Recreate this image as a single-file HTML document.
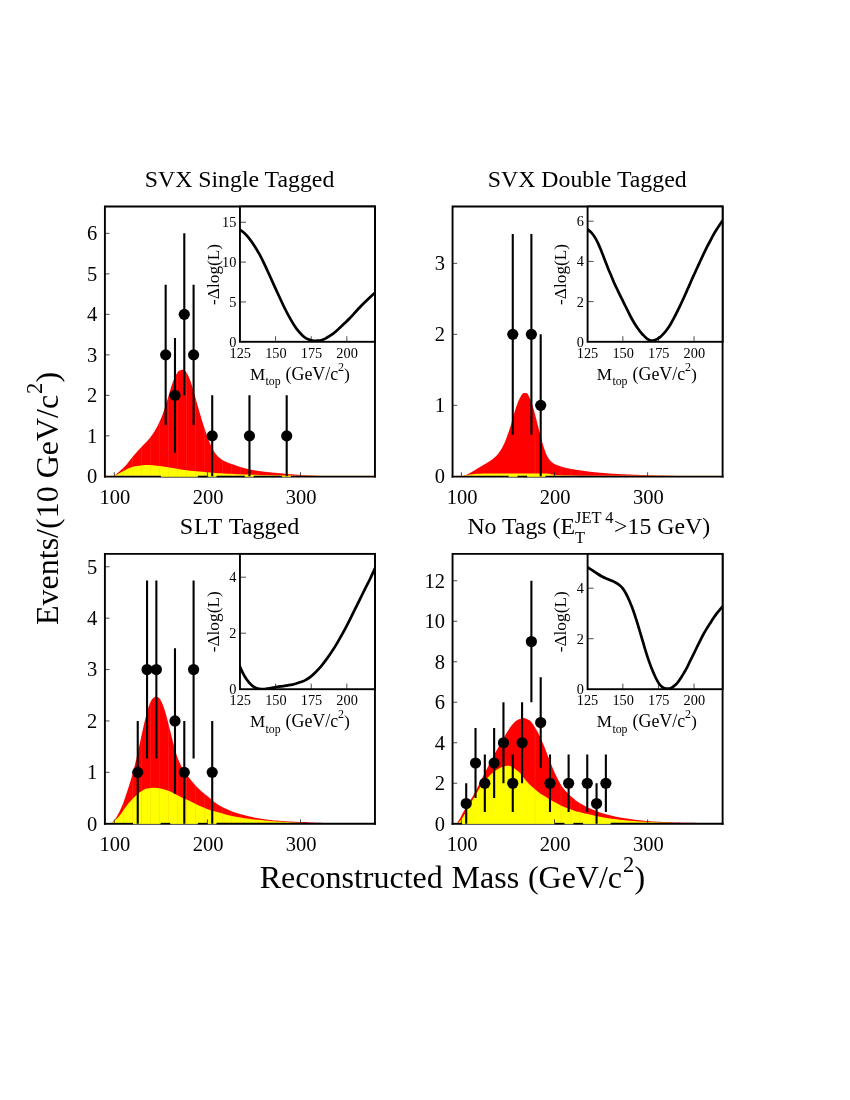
<!DOCTYPE html>
<html><head><meta charset="utf-8"><title>Reconstructed Mass</title>
<style>html,body{margin:0;padding:0;background:#fff}svg{display:block;will-change:transform}text{fill:#000}</style></head>
<body><svg width="850" height="1100" viewBox="0 0 850 1100">
<rect width="850" height="1100" fill="#fff"/>
<g id="panel1">
<path d="M104.90,477.60V206.50H374.95V477.60" fill="none" stroke="#000" stroke-width="1.9" stroke-linejoin="miter"/>
<clipPath id="cr0"><path d="M114.80,475.60C116.45,474.10 121.68,469.78 124.70,466.60C127.72,463.42 130.15,459.72 132.90,456.50C135.65,453.28 138.45,450.30 141.20,447.30C143.95,444.30 146.93,441.58 149.40,438.50C151.87,435.42 153.80,432.82 156.00,428.80C158.20,424.78 160.68,419.28 162.60,414.40C164.52,409.52 165.85,404.72 167.50,399.50C169.15,394.28 170.85,387.62 172.50,383.10C174.15,378.58 175.90,374.60 177.40,372.40C178.90,370.20 180.12,370.05 181.50,369.90C182.88,369.75 184.18,369.58 185.70,371.50C187.22,373.42 188.97,377.00 190.60,381.40C192.23,385.80 193.85,392.23 195.50,397.90C197.15,403.57 199.02,410.37 200.50,415.40C201.98,420.43 202.98,423.83 204.40,428.10C205.82,432.37 207.43,437.17 209.00,441.00C210.57,444.83 212.30,448.50 213.80,451.10C215.30,453.70 216.43,455.03 218.00,456.60C219.57,458.17 220.77,459.22 223.20,460.50C225.63,461.78 229.45,463.15 232.60,464.30C235.75,465.45 238.95,466.50 242.10,467.40C245.25,468.30 248.37,469.07 251.50,469.70C254.63,470.33 256.98,470.68 260.90,471.20C264.82,471.72 270.15,472.30 275.00,472.80C279.85,473.30 284.83,473.78 290.00,474.20C295.17,474.62 300.67,474.98 306.00,475.30C311.33,475.62 319.33,475.97 322.00,476.10L322.00,476.90L114.80,476.90Z"/></clipPath>
<clipPath id="cy0"><path d="M114.80,475.60C116.45,474.73 121.68,471.88 124.70,470.40C127.72,468.92 130.15,467.53 132.90,466.70C135.65,465.87 138.45,465.67 141.20,465.40C143.95,465.13 145.28,464.83 149.40,465.10C153.52,465.37 160.40,466.23 165.90,467.00C171.40,467.77 176.92,468.93 182.40,469.70C187.88,470.47 193.32,471.07 198.80,471.60C204.28,472.13 208.43,472.47 215.30,472.90C222.17,473.33 232.55,473.85 240.00,474.20C247.45,474.55 253.33,474.78 260.00,475.00C266.67,475.22 274.67,475.38 280.00,475.50C285.33,475.62 288.67,475.52 292.00,475.70C295.33,475.88 298.67,476.45 300.00,476.60L300.00,476.90L114.80,476.90Z"/></clipPath>
<path d="M114.80,475.60C116.45,474.10 121.68,469.78 124.70,466.60C127.72,463.42 130.15,459.72 132.90,456.50C135.65,453.28 138.45,450.30 141.20,447.30C143.95,444.30 146.93,441.58 149.40,438.50C151.87,435.42 153.80,432.82 156.00,428.80C158.20,424.78 160.68,419.28 162.60,414.40C164.52,409.52 165.85,404.72 167.50,399.50C169.15,394.28 170.85,387.62 172.50,383.10C174.15,378.58 175.90,374.60 177.40,372.40C178.90,370.20 180.12,370.05 181.50,369.90C182.88,369.75 184.18,369.58 185.70,371.50C187.22,373.42 188.97,377.00 190.60,381.40C192.23,385.80 193.85,392.23 195.50,397.90C197.15,403.57 199.02,410.37 200.50,415.40C201.98,420.43 202.98,423.83 204.40,428.10C205.82,432.37 207.43,437.17 209.00,441.00C210.57,444.83 212.30,448.50 213.80,451.10C215.30,453.70 216.43,455.03 218.00,456.60C219.57,458.17 220.77,459.22 223.20,460.50C225.63,461.78 229.45,463.15 232.60,464.30C235.75,465.45 238.95,466.50 242.10,467.40C245.25,468.30 248.37,469.07 251.50,469.70C254.63,470.33 256.98,470.68 260.90,471.20C264.82,471.72 270.15,472.30 275.00,472.80C279.85,473.30 284.83,473.78 290.00,474.20C295.17,474.62 300.67,474.98 306.00,475.30C311.33,475.62 319.33,475.97 322.00,476.10L322.00,476.90L114.80,476.90Z" fill="#ff0000"/>
<g clip-path="url(#cr0)" stroke="#fff" stroke-opacity="0.08" stroke-width="1"><line x1="114.5" y1="206.5" x2="114.5" y2="476.6"/><line x1="123.5" y1="206.5" x2="123.5" y2="476.6"/><line x1="132.5" y1="206.5" x2="132.5" y2="476.6"/><line x1="141.5" y1="206.5" x2="141.5" y2="476.6"/><line x1="150.5" y1="206.5" x2="150.5" y2="476.6"/><line x1="159.5" y1="206.5" x2="159.5" y2="476.6"/><line x1="168.5" y1="206.5" x2="168.5" y2="476.6"/><line x1="177.5" y1="206.5" x2="177.5" y2="476.6"/><line x1="186.5" y1="206.5" x2="186.5" y2="476.6"/><line x1="195.5" y1="206.5" x2="195.5" y2="476.6"/><line x1="204.5" y1="206.5" x2="204.5" y2="476.6"/><line x1="213.5" y1="206.5" x2="213.5" y2="476.6"/><line x1="222.5" y1="206.5" x2="222.5" y2="476.6"/><line x1="231.5" y1="206.5" x2="231.5" y2="476.6"/><line x1="240.5" y1="206.5" x2="240.5" y2="476.6"/><line x1="249.5" y1="206.5" x2="249.5" y2="476.6"/><line x1="258.5" y1="206.5" x2="258.5" y2="476.6"/><line x1="267.5" y1="206.5" x2="267.5" y2="476.6"/><line x1="276.5" y1="206.5" x2="276.5" y2="476.6"/><line x1="285.5" y1="206.5" x2="285.5" y2="476.6"/><line x1="294.5" y1="206.5" x2="294.5" y2="476.6"/><line x1="303.5" y1="206.5" x2="303.5" y2="476.6"/><line x1="312.5" y1="206.5" x2="312.5" y2="476.6"/><line x1="321.5" y1="206.5" x2="321.5" y2="476.6"/><line x1="330.5" y1="206.5" x2="330.5" y2="476.6"/><line x1="339.5" y1="206.5" x2="339.5" y2="476.6"/><line x1="348.5" y1="206.5" x2="348.5" y2="476.6"/><line x1="357.5" y1="206.5" x2="357.5" y2="476.6"/><line x1="366.5" y1="206.5" x2="366.5" y2="476.6"/></g>
<path d="M114.80,475.60C116.45,474.73 121.68,471.88 124.70,470.40C127.72,468.92 130.15,467.53 132.90,466.70C135.65,465.87 138.45,465.67 141.20,465.40C143.95,465.13 145.28,464.83 149.40,465.10C153.52,465.37 160.40,466.23 165.90,467.00C171.40,467.77 176.92,468.93 182.40,469.70C187.88,470.47 193.32,471.07 198.80,471.60C204.28,472.13 208.43,472.47 215.30,472.90C222.17,473.33 232.55,473.85 240.00,474.20C247.45,474.55 253.33,474.78 260.00,475.00C266.67,475.22 274.67,475.38 280.00,475.50C285.33,475.62 288.67,475.52 292.00,475.70C295.33,475.88 298.67,476.45 300.00,476.60L300.00,476.90L114.80,476.90Z" fill="#ffff00"/>
<g clip-path="url(#cy0)" stroke="#ff0000" stroke-opacity="0.08" stroke-width="1"><line x1="114.5" y1="206.5" x2="114.5" y2="476.6"/><line x1="123.5" y1="206.5" x2="123.5" y2="476.6"/><line x1="132.5" y1="206.5" x2="132.5" y2="476.6"/><line x1="141.5" y1="206.5" x2="141.5" y2="476.6"/><line x1="150.5" y1="206.5" x2="150.5" y2="476.6"/><line x1="159.5" y1="206.5" x2="159.5" y2="476.6"/><line x1="168.5" y1="206.5" x2="168.5" y2="476.6"/><line x1="177.5" y1="206.5" x2="177.5" y2="476.6"/><line x1="186.5" y1="206.5" x2="186.5" y2="476.6"/><line x1="195.5" y1="206.5" x2="195.5" y2="476.6"/><line x1="204.5" y1="206.5" x2="204.5" y2="476.6"/><line x1="213.5" y1="206.5" x2="213.5" y2="476.6"/><line x1="222.5" y1="206.5" x2="222.5" y2="476.6"/><line x1="231.5" y1="206.5" x2="231.5" y2="476.6"/><line x1="240.5" y1="206.5" x2="240.5" y2="476.6"/><line x1="249.5" y1="206.5" x2="249.5" y2="476.6"/><line x1="258.5" y1="206.5" x2="258.5" y2="476.6"/><line x1="267.5" y1="206.5" x2="267.5" y2="476.6"/><line x1="276.5" y1="206.5" x2="276.5" y2="476.6"/><line x1="285.5" y1="206.5" x2="285.5" y2="476.6"/><line x1="294.5" y1="206.5" x2="294.5" y2="476.6"/><line x1="303.5" y1="206.5" x2="303.5" y2="476.6"/><line x1="312.5" y1="206.5" x2="312.5" y2="476.6"/><line x1="321.5" y1="206.5" x2="321.5" y2="476.6"/><line x1="330.5" y1="206.5" x2="330.5" y2="476.6"/><line x1="339.5" y1="206.5" x2="339.5" y2="476.6"/><line x1="348.5" y1="206.5" x2="348.5" y2="476.6"/><line x1="357.5" y1="206.5" x2="357.5" y2="476.6"/><line x1="366.5" y1="206.5" x2="366.5" y2="476.6"/></g>
<g stroke="#000" stroke-width="1.9"><line x1="103.95" y1="476.65" x2="160.91" y2="476.65"/><line x1="197.85" y1="476.65" x2="207.46" y2="476.65"/><line x1="216.47" y1="476.65" x2="244.70" y2="476.65"/><line x1="253.71" y1="476.65" x2="281.94" y2="476.65"/><line x1="290.95" y1="476.65" x2="375.90" y2="476.65"/></g>
<g stroke="#000" stroke-width="0.7"><line x1="160.61" y1="477.25" x2="198.15" y2="477.25"/><line x1="207.16" y1="477.25" x2="216.77" y2="477.25"/><line x1="244.40" y1="477.25" x2="254.01" y2="477.25"/><line x1="281.64" y1="477.25" x2="291.25" y2="477.25"/></g>
<g stroke="#e8a868" stroke-opacity="0.75" stroke-width="0.5"><line x1="105.85" y1="475.50" x2="160.91" y2="475.50"/><line x1="197.85" y1="475.50" x2="207.46" y2="475.50"/><line x1="216.47" y1="475.50" x2="244.70" y2="475.50"/><line x1="253.71" y1="475.50" x2="281.94" y2="475.50"/><line x1="290.95" y1="475.50" x2="374.00" y2="475.50"/></g>
<g stroke="#111" stroke-width="0.75"><line x1="104.90" y1="435.85" x2="109.50" y2="435.85"/><line x1="104.90" y1="395.35" x2="109.50" y2="395.35"/><line x1="104.90" y1="354.85" x2="109.50" y2="354.85"/><line x1="104.90" y1="314.35" x2="109.50" y2="314.35"/><line x1="104.90" y1="273.85" x2="109.50" y2="273.85"/><line x1="104.90" y1="233.35" x2="109.50" y2="233.35"/><line x1="114.31" y1="476.65" x2="114.31" y2="472.25"/><line x1="207.41" y1="476.65" x2="207.41" y2="472.25"/><line x1="300.51" y1="476.65" x2="300.51" y2="472.25"/></g>
<g font-family="Liberation Serif, serif" font-size="20.5"><text x="97.30" y="483.25" text-anchor="end">0</text><text x="97.30" y="442.75" text-anchor="end">1</text><text x="97.30" y="402.25" text-anchor="end">2</text><text x="97.30" y="361.75" text-anchor="end">3</text><text x="97.30" y="321.25" text-anchor="end">4</text><text x="97.30" y="280.75" text-anchor="end">5</text><text x="97.30" y="240.25" text-anchor="end">6</text><text x="114.91" y="503.95" text-anchor="middle">100</text><text x="208.01" y="503.95" text-anchor="middle">200</text><text x="301.11" y="503.95" text-anchor="middle">300</text></g>
<clipPath id="cp0"><rect x="104.90" y="206.50" width="270.05" height="271.15"/></clipPath>
<g stroke="#000" stroke-width="2.1" clip-path="url(#cp0)"><line x1="165.67" y1="284.70" x2="165.67" y2="425.00"/><line x1="174.98" y1="338.07" x2="174.98" y2="452.63"/><line x1="184.29" y1="233.35" x2="184.29" y2="395.35"/><line x1="193.60" y1="284.70" x2="193.60" y2="425.00"/><line x1="212.22" y1="395.35" x2="212.22" y2="476.35"/><line x1="249.46" y1="395.35" x2="249.46" y2="476.35"/><line x1="286.70" y1="395.35" x2="286.70" y2="476.35"/></g>
<g fill="#000"><circle cx="165.67" cy="354.85" r="5.6"/><circle cx="174.98" cy="395.35" r="5.6"/><circle cx="184.29" cy="314.35" r="5.6"/><circle cx="193.60" cy="354.85" r="5.6"/><circle cx="212.22" cy="435.85" r="5.6"/><circle cx="249.46" cy="435.85" r="5.6"/><circle cx="286.70" cy="435.85" r="5.6"/></g>
<rect x="239.95" y="206.50" width="135.00" height="135.30" fill="#fff" stroke="#000" stroke-width="1.9"/>
<g stroke="#111" stroke-width="0.75"><line x1="239.95" y1="301.95" x2="245.95" y2="301.95"/><line x1="239.95" y1="262.10" x2="245.95" y2="262.10"/><line x1="239.95" y1="222.25" x2="245.95" y2="222.25"/><line x1="275.60" y1="341.80" x2="275.60" y2="336.20"/><line x1="311.20" y1="341.80" x2="311.20" y2="336.20"/><line x1="346.80" y1="341.80" x2="346.80" y2="336.20"/></g>
<clipPath id="ci0"><rect x="239.95" y="206.50" width="135.00" height="135.30"/></clipPath>
<path d="M234.70,226.10C235.52,226.67 237.95,228.30 239.60,229.50C241.25,230.70 242.95,231.73 244.60,233.30C246.25,234.87 247.85,236.80 249.50,238.90C251.15,241.00 252.85,243.35 254.50,245.90C256.15,248.45 257.75,251.17 259.40,254.20C261.05,257.23 262.75,260.67 264.40,264.10C266.05,267.53 267.67,271.22 269.30,274.80C270.93,278.38 272.55,281.98 274.20,285.60C275.85,289.22 277.55,292.93 279.20,296.50C280.85,300.07 282.45,303.65 284.10,307.00C285.75,310.35 287.45,313.62 289.10,316.60C290.75,319.58 292.37,322.38 294.00,324.90C295.63,327.42 297.25,329.72 298.90,331.70C300.55,333.68 302.25,335.48 303.90,336.80C305.55,338.12 307.15,338.93 308.80,339.60C310.45,340.27 312.42,340.62 313.80,340.80C315.18,340.98 316.00,340.75 317.10,340.70C318.20,340.65 319.03,340.85 320.40,340.50C321.77,340.15 323.67,339.40 325.30,338.60C326.93,337.80 328.55,336.80 330.20,335.70C331.85,334.60 333.55,333.37 335.20,332.00C336.85,330.63 338.45,329.03 340.10,327.50C341.75,325.97 343.45,324.38 345.10,322.80C346.75,321.22 348.37,319.68 350.00,318.00C351.63,316.32 353.25,314.50 354.90,312.70C356.55,310.90 358.25,308.95 359.90,307.20C361.55,305.45 363.15,303.83 364.80,302.20C366.45,300.57 368.20,298.90 369.80,297.40C371.40,295.90 372.75,294.67 374.40,293.20C376.05,291.73 378.82,289.37 379.70,288.60" fill="none" stroke="#000" stroke-width="2.7" stroke-linecap="butt" clip-path="url(#ci0)"/>
<g font-family="Liberation Serif, serif" font-size="14.3"><text x="236.35" y="347.00" text-anchor="end">0</text><text x="236.35" y="306.95" text-anchor="end">5</text><text x="236.35" y="267.10" text-anchor="end">10</text><text x="236.35" y="227.25" text-anchor="end">15</text><text x="240.30" y="358.00" text-anchor="middle">125</text><text x="275.90" y="358.00" text-anchor="middle">150</text><text x="311.50" y="358.00" text-anchor="middle">175</text><text x="347.10" y="358.00" text-anchor="middle">200</text></g>
<text font-family="Liberation Serif, serif" font-size="17.3" transform="translate(219.05,304.90) rotate(-90)">-Δlog(L)</text>
<g font-family="Liberation Serif, serif" font-size="17.7"><text font-size="17.1" x="249.90" y="379.60">M</text><text font-size="11.8" x="265.50" y="385.40">top</text><text font-size="17.9" x="285.55" y="379.60">(GeV/c</text><text font-size="12" x="338.00" y="370.70">2</text><text x="343.95" y="379.60">)</text></g>
<text font-family="Liberation Serif, serif" font-size="23.8" x="239.53" y="186.70" text-anchor="middle">SVX Single Tagged</text>
</g>
<g id="panel2">
<path d="M452.55,477.60V206.50H722.60V477.60" fill="none" stroke="#000" stroke-width="1.9" stroke-linejoin="miter"/>
<clipPath id="cr1"><path d="M464.00,475.80C465.00,475.33 467.33,474.47 470.00,473.00C472.67,471.53 476.67,469.00 480.00,467.00C483.33,465.00 487.00,463.17 490.00,461.00C493.00,458.83 495.67,456.83 498.00,454.00C500.33,451.17 502.00,448.33 504.00,444.00C506.00,439.67 508.33,433.00 510.00,428.00C511.67,423.00 512.67,418.33 514.00,414.00C515.33,409.67 516.67,405.27 518.00,402.00C519.33,398.73 520.83,395.90 522.00,394.40C523.17,392.90 524.00,393.00 525.00,393.00C526.00,393.00 526.83,392.57 528.00,394.40C529.17,396.23 530.67,400.07 532.00,404.00C533.33,407.93 534.67,413.00 536.00,418.00C537.33,423.00 538.67,429.00 540.00,434.00C541.33,439.00 542.67,444.07 544.00,448.00C545.33,451.93 546.67,455.23 548.00,457.60C549.33,459.97 550.33,460.88 552.00,462.20C553.67,463.52 555.00,464.40 558.00,465.50C561.00,466.60 564.67,467.77 570.00,468.80C575.33,469.83 583.33,470.92 590.00,471.70C596.67,472.48 603.33,473.02 610.00,473.50C616.67,473.98 621.67,474.25 630.00,474.60C638.33,474.95 650.00,475.30 660.00,475.60C670.00,475.90 685.00,476.27 690.00,476.40L690.00,476.90L464.00,476.90Z"/></clipPath>
<clipPath id="cy1"><path d="M463.00,476.50C463.67,476.23 465.00,475.33 467.00,474.90C469.00,474.47 471.17,474.13 475.00,473.90C478.83,473.67 482.50,473.57 490.00,473.50C497.50,473.43 510.83,473.48 520.00,473.50C529.17,473.52 539.67,473.45 545.00,473.60C550.33,473.75 549.50,474.12 552.00,474.40C554.50,474.68 555.33,475.03 560.00,475.30C564.67,475.57 571.67,475.78 580.00,476.00C588.33,476.22 605.00,476.50 610.00,476.60L610.00,476.90L463.00,476.90Z"/></clipPath>
<path d="M464.00,475.80C465.00,475.33 467.33,474.47 470.00,473.00C472.67,471.53 476.67,469.00 480.00,467.00C483.33,465.00 487.00,463.17 490.00,461.00C493.00,458.83 495.67,456.83 498.00,454.00C500.33,451.17 502.00,448.33 504.00,444.00C506.00,439.67 508.33,433.00 510.00,428.00C511.67,423.00 512.67,418.33 514.00,414.00C515.33,409.67 516.67,405.27 518.00,402.00C519.33,398.73 520.83,395.90 522.00,394.40C523.17,392.90 524.00,393.00 525.00,393.00C526.00,393.00 526.83,392.57 528.00,394.40C529.17,396.23 530.67,400.07 532.00,404.00C533.33,407.93 534.67,413.00 536.00,418.00C537.33,423.00 538.67,429.00 540.00,434.00C541.33,439.00 542.67,444.07 544.00,448.00C545.33,451.93 546.67,455.23 548.00,457.60C549.33,459.97 550.33,460.88 552.00,462.20C553.67,463.52 555.00,464.40 558.00,465.50C561.00,466.60 564.67,467.77 570.00,468.80C575.33,469.83 583.33,470.92 590.00,471.70C596.67,472.48 603.33,473.02 610.00,473.50C616.67,473.98 621.67,474.25 630.00,474.60C638.33,474.95 650.00,475.30 660.00,475.60C670.00,475.90 685.00,476.27 690.00,476.40L690.00,476.90L464.00,476.90Z" fill="#ff0000"/>
<g clip-path="url(#cr1)" stroke="#fff" stroke-opacity="0.08" stroke-width="1"><line x1="535.0" y1="206.5" x2="535.0" y2="476.6"/><line x1="561.0" y1="206.5" x2="561.0" y2="476.6"/><line x1="571.0" y1="206.5" x2="571.0" y2="476.6"/><line x1="580.0" y1="206.5" x2="580.0" y2="476.6"/></g>
<path d="M463.00,476.50C463.67,476.23 465.00,475.33 467.00,474.90C469.00,474.47 471.17,474.13 475.00,473.90C478.83,473.67 482.50,473.57 490.00,473.50C497.50,473.43 510.83,473.48 520.00,473.50C529.17,473.52 539.67,473.45 545.00,473.60C550.33,473.75 549.50,474.12 552.00,474.40C554.50,474.68 555.33,475.03 560.00,475.30C564.67,475.57 571.67,475.78 580.00,476.00C588.33,476.22 605.00,476.50 610.00,476.60L610.00,476.90L463.00,476.90Z" fill="#ffff00"/>
<g clip-path="url(#cy1)" stroke="#ff0000" stroke-opacity="0.08" stroke-width="1"><line x1="535.0" y1="206.5" x2="535.0" y2="476.6"/><line x1="561.0" y1="206.5" x2="561.0" y2="476.6"/><line x1="571.0" y1="206.5" x2="571.0" y2="476.6"/><line x1="580.0" y1="206.5" x2="580.0" y2="476.6"/></g>
<g stroke="#000" stroke-width="1.9"><line x1="451.60" y1="476.65" x2="508.56" y2="476.65"/><line x1="517.57" y1="476.65" x2="527.18" y2="476.65"/><line x1="545.50" y1="476.65" x2="723.55" y2="476.65"/></g>
<g stroke="#000" stroke-width="0.7"><line x1="508.26" y1="477.25" x2="517.87" y2="477.25"/><line x1="526.88" y1="477.25" x2="545.80" y2="477.25"/></g>
<g stroke="#e8a868" stroke-opacity="0.75" stroke-width="0.5"><line x1="453.50" y1="475.50" x2="508.56" y2="475.50"/><line x1="517.57" y1="475.50" x2="527.18" y2="475.50"/><line x1="545.50" y1="475.50" x2="721.65" y2="475.50"/></g>
<g stroke="#111" stroke-width="0.75"><line x1="452.55" y1="405.35" x2="457.15" y2="405.35"/><line x1="452.55" y1="334.35" x2="457.15" y2="334.35"/><line x1="452.55" y1="263.35" x2="457.15" y2="263.35"/><line x1="461.41" y1="476.65" x2="461.41" y2="472.25"/><line x1="554.51" y1="476.65" x2="554.51" y2="472.25"/><line x1="647.61" y1="476.65" x2="647.61" y2="472.25"/></g>
<g font-family="Liberation Serif, serif" font-size="20.5"><text x="444.95" y="483.25" text-anchor="end">0</text><text x="444.95" y="412.25" text-anchor="end">1</text><text x="444.95" y="341.25" text-anchor="end">2</text><text x="444.95" y="270.25" text-anchor="end">3</text><text x="462.06" y="503.95" text-anchor="middle">100</text><text x="555.16" y="503.95" text-anchor="middle">200</text><text x="648.26" y="503.95" text-anchor="middle">300</text></g>
<clipPath id="cp1"><rect x="452.55" y="206.50" width="270.05" height="271.15"/></clipPath>
<g stroke="#000" stroke-width="2.1" clip-path="url(#cp1)"><line x1="512.77" y1="233.94" x2="512.77" y2="434.76"/><line x1="531.39" y1="233.94" x2="531.39" y2="434.76"/><line x1="540.70" y1="334.35" x2="540.70" y2="476.35"/></g>
<g fill="#000"><circle cx="512.77" cy="334.35" r="5.6"/><circle cx="531.39" cy="334.35" r="5.6"/><circle cx="540.70" cy="405.35" r="5.6"/></g>
<rect x="587.60" y="206.50" width="135.00" height="135.30" fill="#fff" stroke="#000" stroke-width="1.9"/>
<g stroke="#111" stroke-width="0.75"><line x1="587.60" y1="301.60" x2="593.60" y2="301.60"/><line x1="587.60" y1="261.40" x2="593.60" y2="261.40"/><line x1="587.60" y1="221.20" x2="593.60" y2="221.20"/><line x1="622.85" y1="341.80" x2="622.85" y2="336.20"/><line x1="658.45" y1="341.80" x2="658.45" y2="336.20"/><line x1="694.05" y1="341.80" x2="694.05" y2="336.20"/></g>
<clipPath id="ci1"><rect x="587.60" y="206.50" width="135.00" height="135.30"/></clipPath>
<path d="M583.40,226.40C584.08,226.90 586.13,228.33 587.50,229.40C588.87,230.47 590.37,231.47 591.60,232.80C592.83,234.13 593.80,235.60 594.90,237.40C596.00,239.20 597.10,241.27 598.20,243.60C599.30,245.93 600.40,248.68 601.50,251.40C602.60,254.12 603.70,257.05 604.80,259.90C605.90,262.75 607.00,265.78 608.10,268.50C609.20,271.22 610.32,273.63 611.40,276.20C612.48,278.77 613.52,281.47 614.60,283.90C615.68,286.33 616.80,288.50 617.90,290.80C619.00,293.10 620.10,295.45 621.20,297.70C622.30,299.95 623.40,302.10 624.50,304.30C625.60,306.50 626.70,308.70 627.80,310.90C628.90,313.10 630.00,315.45 631.10,317.50C632.20,319.55 633.30,321.42 634.40,323.20C635.50,324.98 636.60,326.63 637.70,328.20C638.80,329.77 639.90,331.28 641.00,332.60C642.10,333.92 643.20,335.02 644.30,336.10C645.40,337.18 646.50,338.35 647.60,339.10C648.70,339.85 649.80,340.38 650.90,340.60C652.00,340.82 653.10,340.68 654.20,340.40C655.30,340.12 656.40,339.55 657.50,338.90C658.60,338.25 659.70,337.45 660.80,336.50C661.90,335.55 663.00,334.45 664.10,333.20C665.20,331.95 666.30,330.53 667.40,329.00C668.50,327.47 669.62,325.82 670.70,324.00C671.78,322.18 672.82,320.17 673.90,318.10C674.98,316.03 676.10,313.82 677.20,311.60C678.30,309.38 679.40,307.12 680.50,304.80C681.60,302.48 682.70,300.12 683.80,297.70C684.90,295.28 686.00,292.77 687.10,290.30C688.20,287.83 689.30,285.38 690.40,282.90C691.50,280.42 692.60,277.83 693.70,275.40C694.80,272.97 695.90,270.70 697.00,268.30C698.10,265.90 699.20,263.38 700.30,261.00C701.40,258.62 702.50,256.32 703.60,254.00C704.70,251.68 705.80,249.27 706.90,247.10C708.00,244.93 709.10,243.08 710.20,241.00C711.30,238.92 712.40,236.57 713.50,234.60C714.60,232.63 715.70,230.93 716.80,229.20C717.90,227.47 719.00,225.82 720.10,224.20C721.20,222.58 722.30,221.00 723.40,219.50C724.50,218.00 726.15,215.92 726.70,215.20" fill="none" stroke="#000" stroke-width="2.7" stroke-linecap="butt" clip-path="url(#ci1)"/>
<g font-family="Liberation Serif, serif" font-size="14.3"><text x="584.00" y="347.00" text-anchor="end">0</text><text x="584.00" y="306.60" text-anchor="end">2</text><text x="584.00" y="266.40" text-anchor="end">4</text><text x="584.00" y="226.20" text-anchor="end">6</text><text x="587.55" y="358.00" text-anchor="middle">125</text><text x="623.15" y="358.00" text-anchor="middle">150</text><text x="658.75" y="358.00" text-anchor="middle">175</text><text x="694.35" y="358.00" text-anchor="middle">200</text></g>
<text font-family="Liberation Serif, serif" font-size="17.3" transform="translate(566.20,304.90) rotate(-90)">-Δlog(L)</text>
<g font-family="Liberation Serif, serif" font-size="17.7"><text font-size="17.1" x="596.85" y="379.60">M</text><text font-size="11.8" x="612.45" y="385.40">top</text><text font-size="17.9" x="632.50" y="379.60">(GeV/c</text><text font-size="12" x="684.95" y="370.70">2</text><text x="690.90" y="379.60">)</text></g>
<text font-family="Liberation Serif, serif" font-size="23.8" x="587.18" y="186.70" text-anchor="middle">SVX Double Tagged</text>
</g>
<g id="panel3">
<path d="M104.90,824.75V553.90H374.95V824.75" fill="none" stroke="#000" stroke-width="1.9" stroke-linejoin="miter"/>
<clipPath id="cr2"><path d="M111.00,823.40C111.83,822.50 114.17,820.90 116.00,818.00C117.83,815.10 120.00,810.83 122.00,806.00C124.00,801.17 126.00,795.23 128.00,789.00C130.00,782.77 132.00,776.35 134.00,768.60C136.00,760.85 138.17,750.60 140.00,742.50C141.83,734.40 143.33,726.58 145.00,720.00C146.67,713.42 148.50,706.73 150.00,703.00C151.50,699.27 152.83,698.60 154.00,697.60C155.17,696.60 156.00,696.77 157.00,697.00C158.00,697.23 158.83,697.17 160.00,699.00C161.17,700.83 162.67,704.17 164.00,708.00C165.33,711.83 166.67,717.00 168.00,722.00C169.33,727.00 170.67,732.83 172.00,738.00C173.33,743.17 174.67,748.73 176.00,753.00C177.33,757.27 178.67,760.63 180.00,763.60C181.33,766.57 182.53,768.50 184.00,770.80C185.47,773.10 186.43,774.50 188.80,777.40C191.17,780.30 195.07,785.05 198.20,788.20C201.33,791.35 204.45,793.68 207.60,796.30C210.75,798.92 213.95,801.80 217.10,803.90C220.25,806.00 223.37,807.42 226.50,808.90C229.63,810.38 231.98,811.52 235.90,812.80C239.82,814.08 245.98,815.63 250.00,816.60C254.02,817.57 256.67,818.03 260.00,818.60C263.33,819.17 265.00,819.50 270.00,820.00C275.00,820.50 283.33,821.20 290.00,821.60C296.67,822.00 302.50,822.13 310.00,822.40C317.50,822.67 330.83,823.07 335.00,823.20L335.00,824.05L111.00,824.05Z"/></clipPath>
<clipPath id="cy2"><path d="M111.00,823.40C111.60,822.93 113.25,821.78 114.60,820.60C115.95,819.42 117.57,818.10 119.10,816.30C120.63,814.50 122.23,811.97 123.80,809.80C125.37,807.63 126.93,805.22 128.50,803.30C130.07,801.38 131.63,799.90 133.20,798.30C134.77,796.70 136.33,795.02 137.90,793.70C139.47,792.38 141.02,791.27 142.60,790.40C144.18,789.53 145.52,788.93 147.40,788.50C149.28,788.07 151.55,787.77 153.90,787.80C156.25,787.83 158.98,788.15 161.50,788.70C164.02,789.25 166.50,790.08 169.00,791.10C171.50,792.12 174.15,793.62 176.50,794.80C178.85,795.98 181.05,797.25 183.10,798.20C185.15,799.15 186.28,799.33 188.80,800.50C191.32,801.67 195.07,803.75 198.20,805.20C201.33,806.65 204.45,808.05 207.60,809.20C210.75,810.35 213.95,811.18 217.10,812.10C220.25,813.02 223.37,813.93 226.50,814.70C229.63,815.47 231.98,815.98 235.90,816.70C239.82,817.42 245.98,818.43 250.00,819.00C254.02,819.57 256.67,819.77 260.00,820.10C263.33,820.43 265.00,820.65 270.00,821.00C275.00,821.35 283.33,821.83 290.00,822.20C296.67,822.57 306.67,823.03 310.00,823.20L310.00,824.05L111.00,824.05Z"/></clipPath>
<path d="M111.00,823.40C111.83,822.50 114.17,820.90 116.00,818.00C117.83,815.10 120.00,810.83 122.00,806.00C124.00,801.17 126.00,795.23 128.00,789.00C130.00,782.77 132.00,776.35 134.00,768.60C136.00,760.85 138.17,750.60 140.00,742.50C141.83,734.40 143.33,726.58 145.00,720.00C146.67,713.42 148.50,706.73 150.00,703.00C151.50,699.27 152.83,698.60 154.00,697.60C155.17,696.60 156.00,696.77 157.00,697.00C158.00,697.23 158.83,697.17 160.00,699.00C161.17,700.83 162.67,704.17 164.00,708.00C165.33,711.83 166.67,717.00 168.00,722.00C169.33,727.00 170.67,732.83 172.00,738.00C173.33,743.17 174.67,748.73 176.00,753.00C177.33,757.27 178.67,760.63 180.00,763.60C181.33,766.57 182.53,768.50 184.00,770.80C185.47,773.10 186.43,774.50 188.80,777.40C191.17,780.30 195.07,785.05 198.20,788.20C201.33,791.35 204.45,793.68 207.60,796.30C210.75,798.92 213.95,801.80 217.10,803.90C220.25,806.00 223.37,807.42 226.50,808.90C229.63,810.38 231.98,811.52 235.90,812.80C239.82,814.08 245.98,815.63 250.00,816.60C254.02,817.57 256.67,818.03 260.00,818.60C263.33,819.17 265.00,819.50 270.00,820.00C275.00,820.50 283.33,821.20 290.00,821.60C296.67,822.00 302.50,822.13 310.00,822.40C317.50,822.67 330.83,823.07 335.00,823.20L335.00,824.05L111.00,824.05Z" fill="#ff0000"/>
<g clip-path="url(#cr2)" stroke="#fff" stroke-opacity="0.08" stroke-width="1"><line x1="114.5" y1="553.9" x2="114.5" y2="823.8"/><line x1="123.5" y1="553.9" x2="123.5" y2="823.8"/><line x1="132.5" y1="553.9" x2="132.5" y2="823.8"/><line x1="141.5" y1="553.9" x2="141.5" y2="823.8"/><line x1="150.5" y1="553.9" x2="150.5" y2="823.8"/><line x1="159.5" y1="553.9" x2="159.5" y2="823.8"/><line x1="168.5" y1="553.9" x2="168.5" y2="823.8"/><line x1="177.5" y1="553.9" x2="177.5" y2="823.8"/><line x1="186.5" y1="553.9" x2="186.5" y2="823.8"/><line x1="195.5" y1="553.9" x2="195.5" y2="823.8"/><line x1="204.5" y1="553.9" x2="204.5" y2="823.8"/><line x1="213.5" y1="553.9" x2="213.5" y2="823.8"/><line x1="222.5" y1="553.9" x2="222.5" y2="823.8"/><line x1="231.5" y1="553.9" x2="231.5" y2="823.8"/><line x1="240.5" y1="553.9" x2="240.5" y2="823.8"/><line x1="249.5" y1="553.9" x2="249.5" y2="823.8"/><line x1="258.5" y1="553.9" x2="258.5" y2="823.8"/><line x1="267.5" y1="553.9" x2="267.5" y2="823.8"/><line x1="276.5" y1="553.9" x2="276.5" y2="823.8"/><line x1="285.5" y1="553.9" x2="285.5" y2="823.8"/><line x1="294.5" y1="553.9" x2="294.5" y2="823.8"/><line x1="303.5" y1="553.9" x2="303.5" y2="823.8"/><line x1="312.5" y1="553.9" x2="312.5" y2="823.8"/><line x1="321.5" y1="553.9" x2="321.5" y2="823.8"/><line x1="330.5" y1="553.9" x2="330.5" y2="823.8"/><line x1="339.5" y1="553.9" x2="339.5" y2="823.8"/><line x1="348.5" y1="553.9" x2="348.5" y2="823.8"/><line x1="357.5" y1="553.9" x2="357.5" y2="823.8"/><line x1="366.5" y1="553.9" x2="366.5" y2="823.8"/></g>
<path d="M111.00,823.40C111.60,822.93 113.25,821.78 114.60,820.60C115.95,819.42 117.57,818.10 119.10,816.30C120.63,814.50 122.23,811.97 123.80,809.80C125.37,807.63 126.93,805.22 128.50,803.30C130.07,801.38 131.63,799.90 133.20,798.30C134.77,796.70 136.33,795.02 137.90,793.70C139.47,792.38 141.02,791.27 142.60,790.40C144.18,789.53 145.52,788.93 147.40,788.50C149.28,788.07 151.55,787.77 153.90,787.80C156.25,787.83 158.98,788.15 161.50,788.70C164.02,789.25 166.50,790.08 169.00,791.10C171.50,792.12 174.15,793.62 176.50,794.80C178.85,795.98 181.05,797.25 183.10,798.20C185.15,799.15 186.28,799.33 188.80,800.50C191.32,801.67 195.07,803.75 198.20,805.20C201.33,806.65 204.45,808.05 207.60,809.20C210.75,810.35 213.95,811.18 217.10,812.10C220.25,813.02 223.37,813.93 226.50,814.70C229.63,815.47 231.98,815.98 235.90,816.70C239.82,817.42 245.98,818.43 250.00,819.00C254.02,819.57 256.67,819.77 260.00,820.10C263.33,820.43 265.00,820.65 270.00,821.00C275.00,821.35 283.33,821.83 290.00,822.20C296.67,822.57 306.67,823.03 310.00,823.20L310.00,824.05L111.00,824.05Z" fill="#ffff00"/>
<g clip-path="url(#cy2)" stroke="#ff0000" stroke-opacity="0.08" stroke-width="1"><line x1="114.5" y1="553.9" x2="114.5" y2="823.8"/><line x1="123.5" y1="553.9" x2="123.5" y2="823.8"/><line x1="132.5" y1="553.9" x2="132.5" y2="823.8"/><line x1="141.5" y1="553.9" x2="141.5" y2="823.8"/><line x1="150.5" y1="553.9" x2="150.5" y2="823.8"/><line x1="159.5" y1="553.9" x2="159.5" y2="823.8"/><line x1="168.5" y1="553.9" x2="168.5" y2="823.8"/><line x1="177.5" y1="553.9" x2="177.5" y2="823.8"/><line x1="186.5" y1="553.9" x2="186.5" y2="823.8"/><line x1="195.5" y1="553.9" x2="195.5" y2="823.8"/><line x1="204.5" y1="553.9" x2="204.5" y2="823.8"/><line x1="213.5" y1="553.9" x2="213.5" y2="823.8"/><line x1="222.5" y1="553.9" x2="222.5" y2="823.8"/><line x1="231.5" y1="553.9" x2="231.5" y2="823.8"/><line x1="240.5" y1="553.9" x2="240.5" y2="823.8"/><line x1="249.5" y1="553.9" x2="249.5" y2="823.8"/><line x1="258.5" y1="553.9" x2="258.5" y2="823.8"/><line x1="267.5" y1="553.9" x2="267.5" y2="823.8"/><line x1="276.5" y1="553.9" x2="276.5" y2="823.8"/><line x1="285.5" y1="553.9" x2="285.5" y2="823.8"/><line x1="294.5" y1="553.9" x2="294.5" y2="823.8"/><line x1="303.5" y1="553.9" x2="303.5" y2="823.8"/><line x1="312.5" y1="553.9" x2="312.5" y2="823.8"/><line x1="321.5" y1="553.9" x2="321.5" y2="823.8"/><line x1="330.5" y1="553.9" x2="330.5" y2="823.8"/><line x1="339.5" y1="553.9" x2="339.5" y2="823.8"/><line x1="348.5" y1="553.9" x2="348.5" y2="823.8"/><line x1="357.5" y1="553.9" x2="357.5" y2="823.8"/><line x1="366.5" y1="553.9" x2="366.5" y2="823.8"/></g>
<g stroke="#000" stroke-width="1.9"><line x1="103.95" y1="823.80" x2="132.98" y2="823.80"/><line x1="160.61" y1="823.80" x2="170.22" y2="823.80"/><line x1="197.85" y1="823.80" x2="207.46" y2="823.80"/><line x1="216.47" y1="823.80" x2="375.90" y2="823.80"/></g>
<g stroke="#000" stroke-width="0.7"><line x1="132.68" y1="824.40" x2="160.91" y2="824.40"/><line x1="169.92" y1="824.40" x2="198.15" y2="824.40"/><line x1="207.16" y1="824.40" x2="216.77" y2="824.40"/></g>
<g stroke="#111" stroke-width="0.75"><line x1="104.90" y1="772.35" x2="109.50" y2="772.35"/><line x1="104.90" y1="720.95" x2="109.50" y2="720.95"/><line x1="104.90" y1="669.55" x2="109.50" y2="669.55"/><line x1="104.90" y1="618.15" x2="109.50" y2="618.15"/><line x1="104.90" y1="566.75" x2="109.50" y2="566.75"/><line x1="114.31" y1="823.80" x2="114.31" y2="819.40"/><line x1="207.41" y1="823.80" x2="207.41" y2="819.40"/><line x1="300.51" y1="823.80" x2="300.51" y2="819.40"/></g>
<g font-family="Liberation Serif, serif" font-size="20.5"><text x="97.30" y="830.65" text-anchor="end">0</text><text x="97.30" y="779.25" text-anchor="end">1</text><text x="97.30" y="727.85" text-anchor="end">2</text><text x="97.30" y="676.45" text-anchor="end">3</text><text x="97.30" y="625.05" text-anchor="end">4</text><text x="97.30" y="573.65" text-anchor="end">5</text><text x="114.91" y="851.35" text-anchor="middle">100</text><text x="208.01" y="851.35" text-anchor="middle">200</text><text x="301.11" y="851.35" text-anchor="middle">300</text></g>
<clipPath id="cp2"><rect x="104.90" y="553.90" width="270.05" height="270.90"/></clipPath>
<g stroke="#000" stroke-width="2.1" clip-path="url(#cp2)"><line x1="137.74" y1="720.95" x2="137.74" y2="823.75"/><line x1="147.05" y1="580.52" x2="147.05" y2="758.58"/><line x1="156.36" y1="580.52" x2="156.36" y2="758.58"/><line x1="174.98" y1="648.26" x2="174.98" y2="793.64"/><line x1="184.29" y1="720.95" x2="184.29" y2="823.75"/><line x1="193.60" y1="580.52" x2="193.60" y2="758.58"/><line x1="212.22" y1="720.95" x2="212.22" y2="823.75"/></g>
<g fill="#000"><circle cx="137.74" cy="772.35" r="5.6"/><circle cx="147.05" cy="669.55" r="5.6"/><circle cx="156.36" cy="669.55" r="5.6"/><circle cx="174.98" cy="720.95" r="5.6"/><circle cx="184.29" cy="772.35" r="5.6"/><circle cx="193.60" cy="669.55" r="5.6"/><circle cx="212.22" cy="772.35" r="5.6"/></g>
<rect x="239.95" y="553.90" width="135.00" height="135.30" fill="#fff" stroke="#000" stroke-width="1.9"/>
<g stroke="#111" stroke-width="0.75"><line x1="239.95" y1="633.20" x2="245.95" y2="633.20"/><line x1="239.95" y1="577.20" x2="245.95" y2="577.20"/><line x1="275.60" y1="689.20" x2="275.60" y2="683.60"/><line x1="311.20" y1="689.20" x2="311.20" y2="683.60"/><line x1="346.80" y1="689.20" x2="346.80" y2="683.60"/></g>
<clipPath id="ci2"><rect x="239.95" y="553.90" width="135.00" height="135.30"/></clipPath>
<path d="M236.40,657.40C236.93,658.78 238.52,663.08 239.60,665.70C240.68,668.32 241.80,670.92 242.90,673.10C244.00,675.28 245.10,677.15 246.20,678.80C247.30,680.45 248.40,681.78 249.50,683.00C250.60,684.22 251.70,685.27 252.80,686.10C253.90,686.93 255.00,687.54 256.10,688.00C257.20,688.46 258.30,688.67 259.40,688.85C260.50,689.03 261.60,689.09 262.70,689.10C263.80,689.11 264.63,689.07 266.00,688.90C267.37,688.73 269.25,688.38 270.90,688.10C272.55,687.82 274.25,687.48 275.90,687.20C277.55,686.92 279.15,686.65 280.80,686.40C282.45,686.15 284.15,685.95 285.80,685.70C287.45,685.45 289.05,685.22 290.70,684.90C292.35,684.58 294.05,684.27 295.70,683.80C297.35,683.33 298.97,682.72 300.60,682.10C302.23,681.48 303.85,680.97 305.50,680.10C307.15,679.23 308.85,678.18 310.50,676.90C312.15,675.62 313.75,674.02 315.40,672.40C317.05,670.78 318.75,669.12 320.40,667.20C322.05,665.28 323.67,663.10 325.30,660.90C326.93,658.70 328.55,656.42 330.20,654.00C331.85,651.58 333.55,649.08 335.20,646.40C336.85,643.72 338.45,640.83 340.10,637.90C341.75,634.97 343.45,631.90 345.10,628.80C346.75,625.70 348.37,622.53 350.00,619.30C351.63,616.07 353.25,612.73 354.90,609.40C356.55,606.07 358.25,602.63 359.90,599.30C361.55,595.97 363.15,592.70 364.80,589.40C366.45,586.10 368.20,582.80 369.80,579.50C371.40,576.20 372.75,573.00 374.40,569.60C376.05,566.20 378.82,560.85 379.70,559.10" fill="none" stroke="#000" stroke-width="2.7" stroke-linecap="butt" clip-path="url(#ci2)"/>
<g font-family="Liberation Serif, serif" font-size="14.3"><text x="236.35" y="694.40" text-anchor="end">0</text><text x="236.35" y="638.20" text-anchor="end">2</text><text x="236.35" y="582.20" text-anchor="end">4</text><text x="240.30" y="705.40" text-anchor="middle">125</text><text x="275.90" y="705.40" text-anchor="middle">150</text><text x="311.50" y="705.40" text-anchor="middle">175</text><text x="347.10" y="705.40" text-anchor="middle">200</text></g>
<text font-family="Liberation Serif, serif" font-size="17.3" transform="translate(219.05,652.30) rotate(-90)">-Δlog(L)</text>
<g font-family="Liberation Serif, serif" font-size="17.7"><text font-size="17.1" x="249.90" y="727.00">M</text><text font-size="11.8" x="265.50" y="732.80">top</text><text font-size="17.9" x="285.55" y="727.00">(GeV/c</text><text font-size="12" x="338.00" y="718.10">2</text><text x="343.95" y="727.00">)</text></g>
<text font-family="Liberation Serif, serif" font-size="24.1" x="239.53" y="534.10" text-anchor="middle"><tspan letter-spacing="0.9">SLT</tspan> Tagged</text>
</g>
<g id="panel4">
<path d="M452.55,824.75V553.90H722.60V824.75" fill="none" stroke="#000" stroke-width="1.9" stroke-linejoin="miter"/>
<clipPath id="cr3"><path d="M457.00,823.40C457.58,822.42 459.37,819.53 460.50,817.50C461.63,815.47 462.38,813.70 463.80,811.20C465.22,808.70 467.05,805.80 469.00,802.50C470.95,799.20 473.50,795.07 475.50,791.40C477.50,787.73 479.03,784.40 481.00,780.50C482.97,776.60 485.30,771.92 487.30,768.00C489.30,764.08 491.05,760.67 493.00,757.00C494.95,753.33 497.00,749.58 499.00,746.00C501.00,742.42 503.03,738.75 505.00,735.50C506.97,732.25 509.13,728.78 510.80,726.50C512.47,724.22 513.82,722.92 515.00,721.80C516.18,720.68 516.82,720.37 517.90,719.80C518.98,719.23 520.37,718.67 521.50,718.40C522.63,718.13 523.62,718.00 524.70,718.20C525.78,718.40 526.82,718.85 528.00,719.60C529.18,720.35 530.20,720.67 531.80,722.70C533.40,724.73 535.65,728.13 537.60,731.80C539.55,735.47 541.53,740.05 543.50,744.70C545.47,749.35 547.43,754.80 549.40,759.70C551.37,764.60 553.33,769.83 555.30,774.10C557.27,778.37 559.23,782.22 561.20,785.30C563.17,788.38 565.15,790.48 567.10,792.60C569.05,794.72 570.95,796.37 572.90,798.00C574.85,799.63 575.85,800.60 578.80,802.40C581.75,804.20 587.07,807.13 590.60,808.80C594.13,810.47 596.77,811.33 600.00,812.40C603.23,813.47 606.67,814.37 610.00,815.20C613.33,816.03 616.67,816.77 620.00,817.40C623.33,818.03 626.67,818.53 630.00,819.00C633.33,819.47 636.67,819.83 640.00,820.20C643.33,820.57 645.00,820.87 650.00,821.20C655.00,821.53 663.33,821.93 670.00,822.20C676.67,822.47 681.33,822.62 690.00,822.80C698.67,822.98 716.67,823.22 722.00,823.30L722.00,824.05L457.00,824.05Z"/></clipPath>
<clipPath id="cy3"><path d="M458.00,823.40C458.83,822.33 461.33,819.57 463.00,817.00C464.67,814.43 465.92,811.67 468.00,808.00C470.08,804.33 473.33,798.67 475.50,795.00C477.67,791.33 479.03,788.82 481.00,786.00C482.97,783.18 485.30,780.33 487.30,778.10C489.30,775.87 491.05,774.20 493.00,772.60C494.95,771.00 497.25,769.53 499.00,768.50C500.75,767.47 502.12,766.85 503.50,766.40C504.88,765.95 506.13,765.83 507.30,765.80C508.47,765.77 509.52,765.88 510.50,766.20C511.48,766.52 512.12,767.00 513.20,767.70C514.28,768.40 515.87,769.52 517.00,770.40C518.13,771.28 518.52,771.32 520.00,773.00C521.48,774.68 523.93,778.23 525.90,780.50C527.87,782.77 529.85,784.77 531.80,786.60C533.75,788.43 535.65,790.00 537.60,791.50C539.55,793.00 541.53,794.32 543.50,795.60C545.47,796.88 547.43,798.03 549.40,799.20C551.37,800.37 553.33,801.52 555.30,802.60C557.27,803.68 559.23,804.80 561.20,805.70C563.17,806.60 564.80,807.12 567.10,808.00C569.40,808.88 572.85,810.30 575.00,811.00C577.15,811.70 577.50,811.60 580.00,812.20C582.50,812.80 586.67,813.83 590.00,814.60C593.33,815.37 596.67,816.15 600.00,816.80C603.33,817.45 605.00,817.85 610.00,818.50C615.00,819.15 623.33,820.13 630.00,820.70C636.67,821.27 643.33,821.57 650.00,821.90C656.67,822.23 661.67,822.47 670.00,822.70C678.33,822.93 695.00,823.20 700.00,823.30L700.00,824.05L458.00,824.05Z"/></clipPath>
<path d="M457.00,823.40C457.58,822.42 459.37,819.53 460.50,817.50C461.63,815.47 462.38,813.70 463.80,811.20C465.22,808.70 467.05,805.80 469.00,802.50C470.95,799.20 473.50,795.07 475.50,791.40C477.50,787.73 479.03,784.40 481.00,780.50C482.97,776.60 485.30,771.92 487.30,768.00C489.30,764.08 491.05,760.67 493.00,757.00C494.95,753.33 497.00,749.58 499.00,746.00C501.00,742.42 503.03,738.75 505.00,735.50C506.97,732.25 509.13,728.78 510.80,726.50C512.47,724.22 513.82,722.92 515.00,721.80C516.18,720.68 516.82,720.37 517.90,719.80C518.98,719.23 520.37,718.67 521.50,718.40C522.63,718.13 523.62,718.00 524.70,718.20C525.78,718.40 526.82,718.85 528.00,719.60C529.18,720.35 530.20,720.67 531.80,722.70C533.40,724.73 535.65,728.13 537.60,731.80C539.55,735.47 541.53,740.05 543.50,744.70C545.47,749.35 547.43,754.80 549.40,759.70C551.37,764.60 553.33,769.83 555.30,774.10C557.27,778.37 559.23,782.22 561.20,785.30C563.17,788.38 565.15,790.48 567.10,792.60C569.05,794.72 570.95,796.37 572.90,798.00C574.85,799.63 575.85,800.60 578.80,802.40C581.75,804.20 587.07,807.13 590.60,808.80C594.13,810.47 596.77,811.33 600.00,812.40C603.23,813.47 606.67,814.37 610.00,815.20C613.33,816.03 616.67,816.77 620.00,817.40C623.33,818.03 626.67,818.53 630.00,819.00C633.33,819.47 636.67,819.83 640.00,820.20C643.33,820.57 645.00,820.87 650.00,821.20C655.00,821.53 663.33,821.93 670.00,822.20C676.67,822.47 681.33,822.62 690.00,822.80C698.67,822.98 716.67,823.22 722.00,823.30L722.00,824.05L457.00,824.05Z" fill="#ff0000"/>
<g clip-path="url(#cr3)" stroke="#fff" stroke-opacity="0.08" stroke-width="1"><line x1="535.0" y1="553.9" x2="535.0" y2="823.8"/><line x1="561.0" y1="553.9" x2="561.0" y2="823.8"/><line x1="571.0" y1="553.9" x2="571.0" y2="823.8"/><line x1="580.0" y1="553.9" x2="580.0" y2="823.8"/></g>
<path d="M458.00,823.40C458.83,822.33 461.33,819.57 463.00,817.00C464.67,814.43 465.92,811.67 468.00,808.00C470.08,804.33 473.33,798.67 475.50,795.00C477.67,791.33 479.03,788.82 481.00,786.00C482.97,783.18 485.30,780.33 487.30,778.10C489.30,775.87 491.05,774.20 493.00,772.60C494.95,771.00 497.25,769.53 499.00,768.50C500.75,767.47 502.12,766.85 503.50,766.40C504.88,765.95 506.13,765.83 507.30,765.80C508.47,765.77 509.52,765.88 510.50,766.20C511.48,766.52 512.12,767.00 513.20,767.70C514.28,768.40 515.87,769.52 517.00,770.40C518.13,771.28 518.52,771.32 520.00,773.00C521.48,774.68 523.93,778.23 525.90,780.50C527.87,782.77 529.85,784.77 531.80,786.60C533.75,788.43 535.65,790.00 537.60,791.50C539.55,793.00 541.53,794.32 543.50,795.60C545.47,796.88 547.43,798.03 549.40,799.20C551.37,800.37 553.33,801.52 555.30,802.60C557.27,803.68 559.23,804.80 561.20,805.70C563.17,806.60 564.80,807.12 567.10,808.00C569.40,808.88 572.85,810.30 575.00,811.00C577.15,811.70 577.50,811.60 580.00,812.20C582.50,812.80 586.67,813.83 590.00,814.60C593.33,815.37 596.67,816.15 600.00,816.80C603.33,817.45 605.00,817.85 610.00,818.50C615.00,819.15 623.33,820.13 630.00,820.70C636.67,821.27 643.33,821.57 650.00,821.90C656.67,822.23 661.67,822.47 670.00,822.70C678.33,822.93 695.00,823.20 700.00,823.30L700.00,824.05L458.00,824.05Z" fill="#ffff00"/>
<g clip-path="url(#cy3)" stroke="#ff0000" stroke-opacity="0.08" stroke-width="1"><line x1="535.0" y1="553.9" x2="535.0" y2="823.8"/><line x1="561.0" y1="553.9" x2="561.0" y2="823.8"/><line x1="571.0" y1="553.9" x2="571.0" y2="823.8"/><line x1="580.0" y1="553.9" x2="580.0" y2="823.8"/></g>
<g stroke="#000" stroke-width="1.9"><line x1="451.60" y1="823.80" x2="462.01" y2="823.80"/><line x1="554.81" y1="823.80" x2="564.42" y2="823.80"/><line x1="573.43" y1="823.80" x2="583.04" y2="823.80"/><line x1="610.67" y1="823.80" x2="723.55" y2="823.80"/></g>
<g stroke="#000" stroke-width="0.7"><line x1="461.71" y1="824.40" x2="555.11" y2="824.40"/><line x1="564.12" y1="824.40" x2="573.73" y2="824.40"/><line x1="582.74" y1="824.40" x2="610.97" y2="824.40"/></g>
<g stroke="#111" stroke-width="0.75"><line x1="452.55" y1="783.25" x2="457.15" y2="783.25"/><line x1="452.55" y1="742.75" x2="457.15" y2="742.75"/><line x1="452.55" y1="702.25" x2="457.15" y2="702.25"/><line x1="452.55" y1="661.75" x2="457.15" y2="661.75"/><line x1="452.55" y1="621.25" x2="457.15" y2="621.25"/><line x1="452.55" y1="580.75" x2="457.15" y2="580.75"/><line x1="461.41" y1="823.80" x2="461.41" y2="819.40"/><line x1="554.51" y1="823.80" x2="554.51" y2="819.40"/><line x1="647.61" y1="823.80" x2="647.61" y2="819.40"/></g>
<g font-family="Liberation Serif, serif" font-size="20.5"><text x="444.95" y="830.65" text-anchor="end">0</text><text x="444.95" y="790.15" text-anchor="end">2</text><text x="444.95" y="749.65" text-anchor="end">4</text><text x="444.95" y="709.15" text-anchor="end">6</text><text x="444.95" y="668.65" text-anchor="end">8</text><text x="444.95" y="628.15" text-anchor="end">10</text><text x="444.95" y="587.65" text-anchor="end">12</text><text x="462.06" y="851.35" text-anchor="middle">100</text><text x="555.16" y="851.35" text-anchor="middle">200</text><text x="648.26" y="851.35" text-anchor="middle">300</text></g>
<clipPath id="cp3"><rect x="452.55" y="553.90" width="270.05" height="270.90"/></clipPath>
<g stroke="#000" stroke-width="2.1" clip-path="url(#cp3)"><line x1="466.21" y1="783.25" x2="466.21" y2="823.75"/><line x1="475.52" y1="727.93" x2="475.52" y2="798.07"/><line x1="484.83" y1="754.61" x2="484.83" y2="811.89"/><line x1="494.14" y1="727.93" x2="494.14" y2="798.07"/><line x1="503.45" y1="702.25" x2="503.45" y2="783.25"/><line x1="512.77" y1="754.61" x2="512.77" y2="811.89"/><line x1="522.08" y1="702.25" x2="522.08" y2="783.25"/><line x1="531.39" y1="580.75" x2="531.39" y2="702.25"/><line x1="540.70" y1="677.22" x2="540.70" y2="767.78"/><line x1="550.01" y1="754.61" x2="550.01" y2="811.89"/><line x1="568.62" y1="754.61" x2="568.62" y2="811.89"/><line x1="587.25" y1="754.61" x2="587.25" y2="811.89"/><line x1="596.56" y1="783.25" x2="596.56" y2="823.75"/><line x1="605.87" y1="754.61" x2="605.87" y2="811.89"/></g>
<g fill="#000"><circle cx="466.21" cy="803.50" r="5.6"/><circle cx="475.52" cy="763.00" r="5.6"/><circle cx="484.83" cy="783.25" r="5.6"/><circle cx="494.14" cy="763.00" r="5.6"/><circle cx="503.45" cy="742.75" r="5.6"/><circle cx="512.77" cy="783.25" r="5.6"/><circle cx="522.08" cy="742.75" r="5.6"/><circle cx="531.39" cy="641.50" r="5.6"/><circle cx="540.70" cy="722.50" r="5.6"/><circle cx="550.01" cy="783.25" r="5.6"/><circle cx="568.62" cy="783.25" r="5.6"/><circle cx="587.25" cy="783.25" r="5.6"/><circle cx="596.56" cy="803.50" r="5.6"/><circle cx="605.87" cy="783.25" r="5.6"/></g>
<rect x="587.60" y="553.90" width="135.00" height="135.30" fill="#fff" stroke="#000" stroke-width="1.9"/>
<g stroke="#111" stroke-width="0.75"><line x1="587.60" y1="638.70" x2="593.60" y2="638.70"/><line x1="587.60" y1="588.20" x2="593.60" y2="588.20"/><line x1="622.85" y1="689.20" x2="622.85" y2="683.60"/><line x1="658.45" y1="689.20" x2="658.45" y2="683.60"/><line x1="694.05" y1="689.20" x2="694.05" y2="683.60"/></g>
<clipPath id="ci3"><rect x="587.60" y="553.90" width="135.00" height="135.30"/></clipPath>
<path d="M583.40,564.50C584.08,564.95 586.13,566.32 587.50,567.20C588.87,568.08 590.10,568.82 591.60,569.80C593.10,570.78 594.85,572.03 596.50,573.10C598.15,574.17 599.85,575.30 601.50,576.20C603.15,577.10 604.75,577.77 606.40,578.50C608.05,579.23 609.75,579.85 611.40,580.60C613.05,581.35 614.93,582.23 616.30,583.00C617.67,583.77 618.50,584.27 619.60,585.20C620.70,586.13 621.80,587.13 622.90,588.60C624.00,590.07 625.10,591.93 626.20,594.00C627.30,596.07 628.40,598.45 629.50,601.00C630.60,603.55 631.70,606.27 632.80,609.30C633.90,612.33 635.00,615.77 636.10,619.20C637.20,622.63 638.30,626.27 639.40,629.90C640.50,633.53 641.62,637.33 642.70,641.00C643.78,644.67 644.82,648.42 645.90,651.90C646.98,655.38 648.10,658.78 649.20,661.90C650.30,665.02 651.40,667.92 652.50,670.60C653.60,673.28 654.70,675.82 655.80,678.00C656.90,680.18 658.00,682.18 659.10,683.70C660.20,685.22 661.30,686.30 662.40,687.10C663.50,687.90 664.73,688.25 665.70,688.50C666.67,688.75 667.37,688.65 668.20,688.60C669.03,688.55 669.75,688.62 670.70,688.20C671.65,687.78 672.82,686.95 673.90,686.10C674.98,685.25 676.10,684.37 677.20,683.10C678.30,681.83 679.40,680.17 680.50,678.50C681.60,676.83 682.70,674.97 683.80,673.10C684.90,671.23 686.00,669.42 687.10,667.30C688.20,665.18 689.30,662.65 690.40,660.40C691.50,658.15 692.60,656.03 693.70,653.80C694.80,651.57 695.90,649.25 697.00,647.00C698.10,644.75 699.20,642.47 700.30,640.30C701.40,638.13 702.50,635.98 703.60,634.00C704.70,632.02 705.80,630.18 706.90,628.40C708.00,626.62 709.10,625.02 710.20,623.30C711.30,621.58 712.40,619.75 713.50,618.10C714.60,616.45 715.70,614.87 716.80,613.40C717.90,611.93 719.15,610.42 720.10,609.30C721.05,608.18 721.40,607.78 722.50,606.70C723.60,605.62 726.00,603.45 726.70,602.80" fill="none" stroke="#000" stroke-width="2.7" stroke-linecap="butt" clip-path="url(#ci3)"/>
<g font-family="Liberation Serif, serif" font-size="14.3"><text x="584.00" y="694.40" text-anchor="end">0</text><text x="584.00" y="643.70" text-anchor="end">2</text><text x="584.00" y="593.20" text-anchor="end">4</text><text x="587.55" y="705.40" text-anchor="middle">125</text><text x="623.15" y="705.40" text-anchor="middle">150</text><text x="658.75" y="705.40" text-anchor="middle">175</text><text x="694.35" y="705.40" text-anchor="middle">200</text></g>
<text font-family="Liberation Serif, serif" font-size="17.3" transform="translate(566.20,652.30) rotate(-90)">-Δlog(L)</text>
<g font-family="Liberation Serif, serif" font-size="17.7"><text font-size="17.1" x="596.85" y="727.00">M</text><text font-size="11.8" x="612.45" y="732.80">top</text><text font-size="17.9" x="632.50" y="727.00">(GeV/c</text><text font-size="12" x="684.95" y="718.10">2</text><text x="690.90" y="727.00">)</text></g>
<text font-family="Liberation Serif, serif" font-size="23.8" x="467.4" y="534.40">No Tags (E<tspan font-size="16.4" dy="-11.8">JET 4</tspan><tspan dy="11.8" dx="0.7">&gt;15 GeV)</tspan></text>
<text font-family="Liberation Serif, serif" font-size="16.4" x="575.0" y="542.50">T</text>
</g>
<text font-family="Liberation Serif, serif" font-size="32" x="259.7" y="888.3" word-spacing="0.8">Reconstructed Mass (GeV/c<tspan font-size="22.5" dy="-16.1" dx="0.8">2</tspan><tspan dy="16.1" dx="0.3">)</tspan></text>
<text font-family="Liberation Serif, serif" font-size="32" transform="translate(58.2,625) rotate(-90)">Events/(10 GeV/c<tspan font-size="22.5" dy="-16.1" dx="0.8">2</tspan><tspan dy="16.1" dx="0.3">)</tspan></text>
</svg></body></html>
